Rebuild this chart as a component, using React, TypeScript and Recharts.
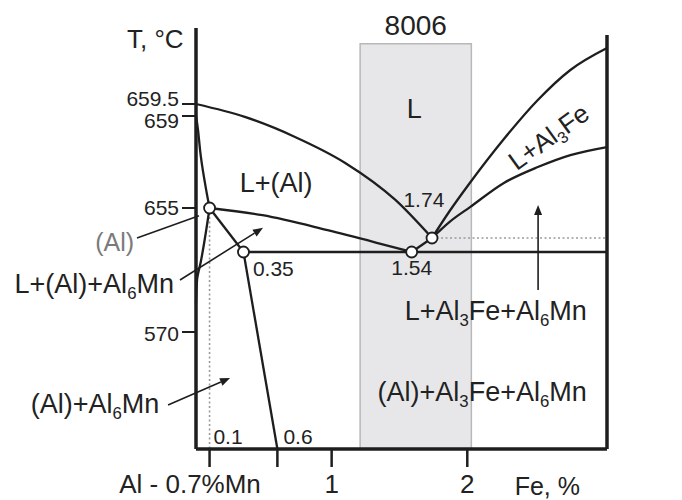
import React from 'react';
import {
  ComposedChart, Line, Scatter, XAxis, YAxis, ReferenceArea, ReferenceLine, ReferenceDot,
} from 'recharts';

const FONT = '"Liberation Sans", Arial, Helvetica, sans-serif';
const INK = '#1e1e1e';
const DOTTED = '#9a9a9a';

// the temperature axis of the diagram is schematic: piecewise between the marked temperatures
const T_STOPS = [450, 570, 654, 654.5, 655, 659, 659.5, 725, 748];
const T_HEIGHTS = [0, 117, 197, 211, 241, 333, 345, 401, 421];

const h = (t: number) => {
  for (let i = 1; i < T_STOPS.length; i++) {
    if (t <= T_STOPS[i] || i === T_STOPS.length - 1) {
      const t0 = T_STOPS[i - 1];
      const t1 = T_STOPS[i];
      return T_HEIGHTS[i - 1] + ((t - t0) / (t1 - t0)) * (T_HEIGHTS[i] - T_HEIGHTS[i - 1]);
    }
  }
  return 0;
};

const FE_MAX = 3.03;

// phase boundaries, Fe % and T °C
const liqAlFe = [0, 0.36, 0.73, 1.1, 1.47, 1.74];
const liqAlT = [659.5, 658.96, 658.09, 656.96, 655.35, 654.5];

const valleyFe = [0.1, 0.49, 0.97, 1.34, 1.59];
const valleyT = [655, 654.88, 654.63, 654.32, 654];

const linkFe = [1.59, 1.74];
const linkT = [654, 654.5];

const eutFe = [0.35, FE_MAX];
const eutT = [654, 654];

const mnValleyFe = [0.1, 0.35];
const mnValleyT = [655, 654];

const solMnFe = [0.35, 0.6];
const solMnT = [654, 450];

const liqFeFe = [1.74, 1.87, 2.02, 2.27, 2.52, 2.76, FE_MAX];
const liqFeT = [654.5, 654.95, 656.1, 658.0, 664.2, 699.3, 725];

const solFeFe = [1.74, 1.87, 2.02, 2.27, 2.52, 2.76, FE_MAX];
const solFeT = [654.5, 654.77, 655.04, 656.09, 656.78, 657.3, 657.65];

const liqMnFe = [0, 0.015, 0.03, 0.066, 0.1];
const liqMnT = [659, 658.39, 657.52, 656.09, 655];

const solAlFe = [0.1, 0.035, 0.008, 0];
const solAlT = [655, 643.5, 625, 600];

const dotVFe = [0.1, 0.1];
const dotVT = [655, 450];
const dotHFe = [1.74, FE_MAX];
const dotHT = [654.5, 654.5];

// invariant points
const pointFe = [0.1, 0.35, 1.59, 1.74];
const pointT = [655, 654, 654, 654.5];

// 8006 composition band
const bandFe = [1.21, 2.03];
const bandTop = 730;

const LEFT_T = [570, 655, 659, 659.5];
const RIGHT_T = [654, 654.5, 725];
const FE_TICKS = [0.1, 0.6, 1, 2];
const FE_LABELED = [1, 2];

const pts = (fe: number[], t: number[]) => fe.map((x, i) => ({ x, y: h(t[i]) }));

const CURVES = [
  { id: 'liqAl', data: pts(liqAlFe, liqAlT), type: 'monotone' },
  { id: 'valley', data: pts(valleyFe, valleyT), type: 'monotone' },
  { id: 'link', data: pts(linkFe, linkT), type: 'linear' },
  { id: 'eut', data: pts(eutFe, eutT), type: 'linear' },
  { id: 'mnValley', data: pts(mnValleyFe, mnValleyT), type: 'linear' },
  { id: 'solMn', data: pts(solMnFe, solMnT), type: 'linear' },
  { id: 'liqFe', data: pts(liqFeFe, liqFeT), type: 'monotone' },
  { id: 'solFe', data: pts(solFeFe, solFeT), type: 'monotone' },
  { id: 'liqMn', data: pts(liqMnFe, liqMnT), type: 'monotone' },
  { id: 'solAl', data: pts(solAlFe, solAlT), type: 'monotoneY' },
];

const DOTTED_LINES = [
  { id: 'dotV', data: pts(dotVFe, dotVT) },
  { id: 'dotH', data: pts(dotHFe, dotHT) },
];

// annotation placement (Fe %, T)
const LABELS = [
  { text: 'T, °C', x: -0.3, t: 735.4, size: 26 },
  { text: '8006', x: 1.62, t: 751.5, size: 28 },
  { text: 'L', x: 1.61, t: 659.33, size: 27 },
  { text: 'L+(Al)', x: 0.59, t: 656.09, size: 27 },
  { text: 'L+Al_3Fe', x: 2.6, t: 658.09, size: 26, rotate: -36 },
  { text: '1.74', x: 1.68, t: 655.35, size: 21 },
  { text: '1.54', x: 1.59, t: 637.2, size: 21 },
  { text: '0.35', x: 0.57, t: 636.2, size: 21 },
  { text: '(Al)', x: -0.6, t: 654.36, size: 25, color: '#7a7a7a' },
  { text: 'L+(Al)+Al_6Mn', x: -0.75, t: 620.4, size: 27 },
  { text: '(Al)+Al_6Mn', x: -0.745, t: 496.2, size: 27 },
  { text: 'L+Al_3Fe+Al_6Mn', x: 2.21, t: 592, size: 27 },
  { text: '(Al)+Al_3Fe+Al_6Mn', x: 2.11, t: 508.5, size: 27 },
  { text: '0.1', x: 0.236, t: 462.3, size: 21 },
  { text: '0.6', x: 0.752, t: 462.3, size: 21 },
  { text: 'Al - 0.7%Mn', x: -0.044, t: 414, size: 26 },
  { text: 'Fe, %', x: 2.59, t: 412, size: 25 },
];

const LEADERS = [
  { from: [-0.435, 654.5], to: [0.022, 654.87], arrow: false },
  { from: [-0.118, 624.6], to: [0.494, 654.67], arrow: true },
  { from: [-0.206, 495.1], to: [0.251, 522.8], arrow: true },
  { from: [2.522, 614.1], to: [2.522, 655.13], arrow: true },
];

const RichText = ({ cx, cy, label }: any) => {
  const size = label.size;
  const parts: string[] = label.text.split(/_(\d)/);
  const sub = size * 0.2;
  return (
    <text
      x={cx}
      y={cy}
      dy="0.35em"
      textAnchor="middle"
      fontFamily={FONT}
      fontSize={size}
      fill={label.color || '#222'}
      transform={label.rotate ? `rotate(${label.rotate} ${cx} ${cy})` : undefined}
    >
      {parts.map((p, i) =>
        i % 2 === 1 ? (
          <tspan key={i} fontSize={size * 0.62} dy={sub}>{p}</tspan>
        ) : (
          <tspan key={i} dy={i > 0 ? -sub : undefined}>{p}</tspan>
        ),
      )}
    </text>
  );
};

const Arrow = (props: any) => {
  const { x1, y1, x2, y2, arrow } = props;
  const a = Math.atan2(y2 - y1, x2 - x1);
  const L = 10;
  const W = 4;
  const bx = x2 - L * Math.cos(a);
  const by = y2 - L * Math.sin(a);
  const head = `${x2},${y2} ${bx + W * Math.sin(a)},${by - W * Math.cos(a)} ${bx - W * Math.sin(a)},${by + W * Math.cos(a)}`;
  return (
    <g>
      <line x1={x1} y1={y1} x2={arrow ? bx : x2} y2={arrow ? by : y2} stroke={INK} strokeWidth={1.6} />
      {arrow && <polygon points={head} fill={INK} />}
    </g>
  );
};

const findT = (list: number[], v: number) => {
  let best = list[0];
  list.forEach((t) => {
    if (Math.abs(h(t) - v) < Math.abs(h(best) - v)) best = t;
  });
  return best;
};

const LEFT_SHIFT: Record<string, number> = { '570': 2, '655': 0, '659': 5, '659.5': -5 };
const RIGHT_SHIFT: Record<string, number> = { '725': 3, '654.5': 1, '654': 6 };

const LeftTick = ({ x, y, payload }: any) => {
  const t = findT(LEFT_T, payload.value);
  return (
    <text x={x} y={y + LEFT_SHIFT[String(t)]} dy="0.35em" textAnchor="end" fontFamily={FONT} fontSize={21} fill="#222">
      {t}
    </text>
  );
};

const RightTick = ({ x, y, payload }: any) => {
  const t = findT(RIGHT_T, payload.value);
  return (
    <text x={x} y={y + RIGHT_SHIFT[String(t)]} dy="0.35em" textAnchor="start" fontFamily={FONT} fontSize={21} fill="#222">
      {t}
    </text>
  );
};

const BottomTick = ({ x, y, payload }: any) => {
  if (!FE_LABELED.includes(payload.value)) return null;
  return (
    <text x={x} y={y + 15} dy="0.35em" textAnchor="middle" fontFamily={FONT} fontSize={26} fill="#222">
      {payload.value}
    </text>
  );
};

export default function App() {
  return (
    <div style={{ position: 'absolute', left: 0, top: 0, background: '#fff' }}>
      <ComposedChart width={682} height={500} margin={{ top: 28, right: 15, bottom: 11, left: 136 }}>
        <XAxis
          type="number"
          dataKey="x"
          domain={[0, FE_MAX]}
          ticks={FE_TICKS}
          interval={0}
          height={40}
          tickSize={18}
          tickMargin={2}
          axisLine={{ stroke: INK, strokeWidth: 3.5 }}
          tickLine={{ stroke: INK, strokeWidth: 2.5 }}
          tick={<BottomTick />}
        />
        <YAxis
          yAxisId="left"
          type="number"
          domain={[h(450), h(748)]}
          ticks={LEFT_T.map(h)}
          interval={0}
          width={60}
          tickSize={14}
          tickMargin={3}
          axisLine={{ stroke: INK, strokeWidth: 3.5 }}
          tickLine={{ stroke: INK, strokeWidth: 2 }}
          tick={<LeftTick />}
        />
        <YAxis
          yAxisId="right"
          orientation="right"
          type="number"
          domain={[h(450), h(748)]}
          ticks={RIGHT_T.map(h)}
          interval={0}
          width={60}
          tickSize={15}
          tickMargin={4}
          axisLine={false}
          tickLine={{ stroke: INK, strokeWidth: 2 }}
          tick={<RightTick />}
        />

        <ReferenceArea
          yAxisId="left"
          x1={bandFe[0]}
          x2={bandFe[1]}
          y1={h(450)}
          y2={h(bandTop)}
          fill="#e7e7e9"
          fillOpacity={1}
          stroke="#b8b8b8"
          strokeWidth={1.5}
        />

        <ReferenceLine
          yAxisId="left"
          segment={[{ x: FE_MAX, y: h(450) }, { x: FE_MAX, y: h(740) }]}
          stroke={INK}
          strokeWidth={3.5}
          ifOverflow="visible"
        />

        {DOTTED_LINES.map((d) => (
          <Line
            key={d.id}
            yAxisId="left"
            data={d.data}
            dataKey="y"
            type="linear"
            stroke={DOTTED}
            strokeWidth={1.6}
            strokeDasharray="2 2.5"
            dot={false}
            activeDot={false}
            isAnimationActive={false}
          />
        ))}

        {CURVES.map((c) => (
          <Line
            key={c.id}
            yAxisId="left"
            data={c.data}
            dataKey="y"
            type={c.type as any}
            stroke={INK}
            strokeWidth={2.3}
            dot={false}
            activeDot={false}
            isAnimationActive={false}
          />
        ))}

        {LEADERS.map((l, i) => (
          <ReferenceLine
            key={i}
            yAxisId="left"
            segment={[{ x: l.from[0], y: h(l.from[1]) }, { x: l.to[0], y: h(l.to[1]) }]}
            ifOverflow="visible"
            shape={(p: any) => <Arrow {...p} arrow={l.arrow} />}
          />
        ))}

        <Scatter
          yAxisId="left"
          data={pts(pointFe, pointT)}
          dataKey="y"
          isAnimationActive={false}
          shape={(p: any) => <circle cx={p.cx} cy={p.cy} r={5.5} fill="#fff" stroke={INK} strokeWidth={1.8} />}
        />

        {LABELS.map((lb, i) => (
          <ReferenceDot
            key={i}
            yAxisId="left"
            x={lb.x}
            y={h(lb.t)}
            r={0}
            ifOverflow="visible"
            shape={(p: any) => <RichText cx={p.cx} cy={p.cy} label={lb} />}
          />
        ))}
      </ComposedChart>
    </div>
  );
}
